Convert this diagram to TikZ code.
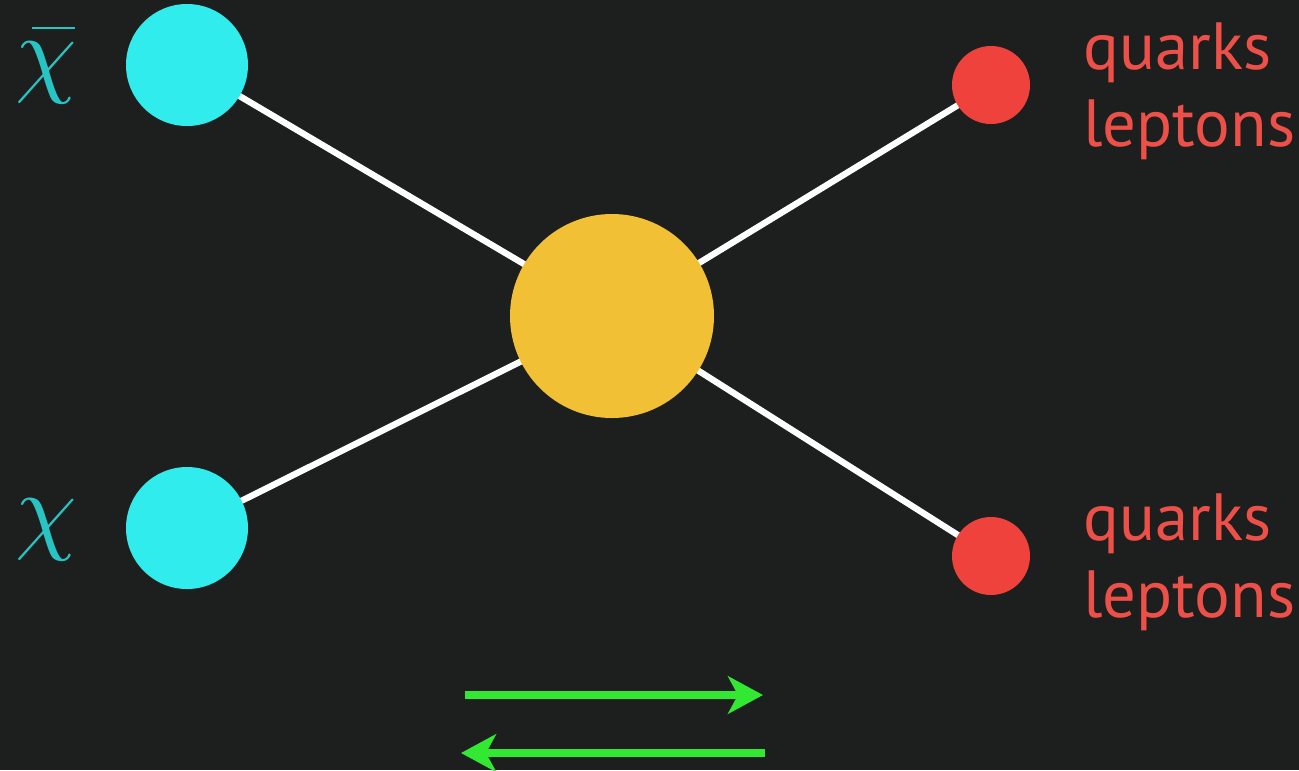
\documentclass[tikz,border=0pt]{standalone}
\usepackage{fontspec}
\setsansfont{PT Sans}
\usetikzlibrary{arrows.meta}
\definecolor{bg}{RGB}{28,31,30}
\definecolor{cyanball}{RGB}{48,236,236}
\definecolor{chicol}{RGB}{40,196,196}
\definecolor{goldball}{RGB}{242,192,52}
\definecolor{redball}{RGB}{240,66,60}
\definecolor{redtxt}{RGB}{236,80,72}
\definecolor{arrowgreen}{RGB}{50,232,50}
\tikzset{
  ball/.style={circle, inner sep=0pt, draw=none},
  dm/.style={ball, fill=cyanball, minimum size=2.44cm},
  core/.style={ball, fill=goldball, minimum size=4.08cm},
  sm/.style={ball, fill=redball, minimum size=1.56cm},
  leg/.style={line width=3.6pt, white},
  smlabel/.style={text=redtxt, font=\sffamily\fontsize{38}{44}\selectfont, align=left, anchor=west, inner sep=0pt},
  chilabel/.style={text=chicol, inner sep=0pt},
  flow/.style={line width=4.4pt, arrowgreen, -{Stealth[length=0.7cm,width=0.75cm,inset=0.2cm]}}
}
\begin{document}
\begin{tikzpicture}
\fill[bg] (0,0) rectangle (25.98,-15.4);
\useasboundingbox (0,0) rectangle (25.98,-15.4);
\coordinate (cA) at (3.74,-1.30);
\coordinate (cB) at (3.74,-10.56);
\coordinate (cC) at (12.24,-6.32);
\coordinate (cD) at (19.82,-1.70);
\coordinate (cE) at (19.82,-11.12);
\draw[leg] (cA) -- (cC);
\draw[leg] (cB) -- (cC);
\draw[leg] (cD) -- (cC);
\draw[leg] (cE) -- (cC);
\node[dm] (chibar) at (cA) {};
\node[dm] (chi) at (cB) {};
\node[core] (vertex) at (cC) {};
\node[sm] (out1) at (cD) {};
\node[sm] (out2) at (cE) {};
\node[chilabel] (lchi) at (0.92,-10.6) {\scalebox{5.6}{$\chi$}};
\node[chilabel] (lchibar) at (0.92,-1.45) {\scalebox{5.6}{$\chi$}};
\draw[chicol, line width=1.6pt] (0.64,-0.56) -- (1.5,-0.56);
\node[smlabel] (l1) at (21.66,-1.82) {quarks\\leptons};
\node[smlabel] (l2) at (21.66,-11.25) {quarks\\leptons};
\coordinate (a1s) at (9.30,-13.90);
\coordinate (a1e) at (15.26,-13.90);
\coordinate (a2s) at (15.30,-15.06);
\coordinate (a2e) at (9.22,-15.06);
\draw[flow] (a1s) -- (a1e);
\draw[flow] (a2s) -- (a2e);
\end{tikzpicture}
\end{document}
